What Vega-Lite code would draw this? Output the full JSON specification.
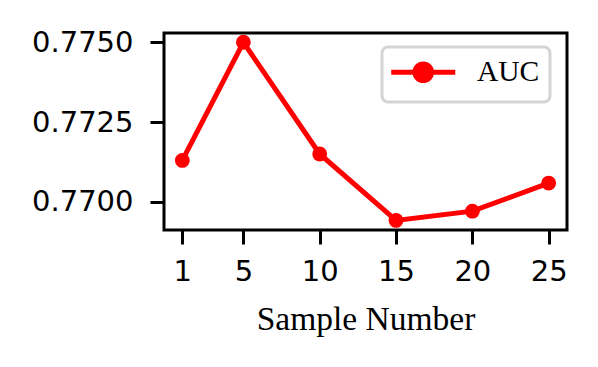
{
  "$schema": "https://vega.github.io/schema/vega-lite/v6.json",
  "autosize": {"type": "none"},
  "width": 403,
  "height": 197,
  "padding": {"left": 164, "top": 33, "right": 31, "bottom": 137},
  "background": "white",
  "config": {
    "view": {"stroke": "black", "strokeWidth": 3},
    "axis": {
      "domain": false,
      "grid": false,
      "tickColor": "black",
      "tickWidth": 3,
      "tickSize": 14,
      "labelColor": "black",
      "labelFont": "DejaVu Sans",
      "labelFontSize": 29,
      "titleColor": "black"
    }
  },
  "data": {
    "values": [
      {"sample": 1, "auc": 0.7713, "series": "AUC"},
      {"sample": 5, "auc": 0.7750, "series": "AUC"},
      {"sample": 10, "auc": 0.7715, "series": "AUC"},
      {"sample": 15, "auc": 0.76942, "series": "AUC"},
      {"sample": 20, "auc": 0.76971, "series": "AUC"},
      {"sample": 25, "auc": 0.77059, "series": "AUC"}
    ]
  },
  "encoding": {
    "x": {
      "field": "sample",
      "type": "quantitative",
      "scale": {"domain": [-0.2, 26.2], "nice": false, "zero": false},
      "axis": {
        "values": [1, 5, 10, 15, 20, 25],
        "labelPadding": 13,
        "title": "Sample Number",
        "titleFont": "Liberation Serif",
        "titleFontSize": 33.5,
        "titleFontWeight": "normal",
        "titlePadding": 17
      }
    },
    "y": {
      "field": "auc",
      "type": "quantitative",
      "scale": {"domain": [0.76912, 0.77529], "nice": false, "zero": false},
      "axis": {
        "values": [0.77, 0.7725, 0.775],
        "format": ".4f",
        "labelPadding": 17,
        "title": null
      }
    },
    "color": {
      "field": "series",
      "type": "nominal",
      "scale": {"range": ["#ff0000"]},
      "legend": {
        "title": null,
        "orient": "none",
        "legendX": 218,
        "legendY": 14,
        "fillColor": "white",
        "strokeColor": "#d4d4d4",
        "cornerRadius": 6,
        "padding": 10.5,
        "labelFont": "Liberation Serif",
        "labelFontSize": 29.5,
        "labelColor": "black",
        "labelOffset": 55,
        "symbolType": "M-1.6,0L4.8,0M2.43,0A0.83,0.83,0,1,1,0.77,0A0.83,0.83,0,1,1,2.43,0Z",
        "symbolSize": 400,
        "symbolStrokeWidth": 5,
        "symbolFillColor": "#ff0000",
        "symbolStrokeColor": "#ff0000",
        "encode": {
          "legend": {
            "update": {
              "strokeWidth": {"value": 3}
            }
          },
          "symbols": {
            "update": {
              "fill": {"value": "#ff0000"},
              "stroke": {"value": "#ff0000"},
              "strokeWidth": {"value": 5},
              "shape": {"value": "M-1.6,0L4.8,0M2.43,0A0.83,0.83,0,1,1,0.77,0A0.83,0.83,0,1,1,2.43,0Z"},
              "size": {"value": 400},
              "opacity": {"value": 1}
            }
          }
        }
      }
    }
  },
  "layer": [
    {"mark": {"type": "line", "strokeWidth": 5}},
    {"mark": {"type": "point", "filled": true, "size": 219, "opacity": 1, "shape": "circle"}}
  ]
}
